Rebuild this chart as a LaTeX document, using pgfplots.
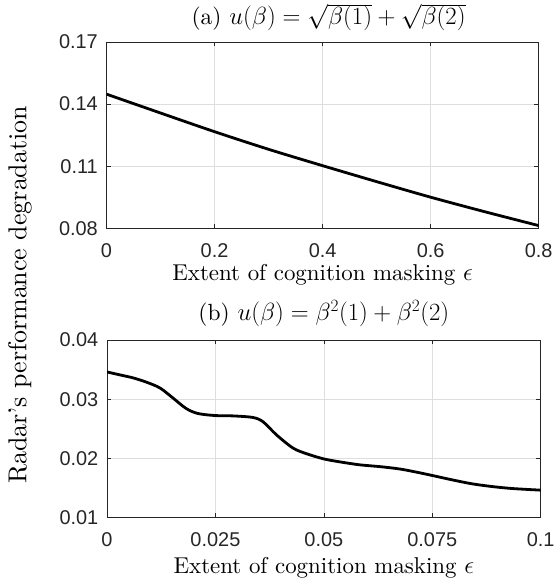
\documentclass[border=0pt]{standalone}
\usepackage{pgfplots}
\pgfplotsset{compat=1.18}
\usepackage{fontspec}
\setmainfont{lmroman10-regular.otf}
\newfontfamily\ticksans{Liberation Sans}
\definecolor{axgray}{RGB}{38,38,38}
\definecolor{gridgray}{RGB}{222,222,222}

\pgfplotsset{
  matlab/.style={
    scale only axis,
    anchor=south west,
    axis line style={axgray, line width=0.6bp},
    every tick/.style={axgray, line width=0.6bp},
    tick align=inside,
    major tick length=4.3bp,
    grid=major,
    major grid style={gridgray, line width=0.6bp},
    /pgf/number format/assume math mode=true,
    tick label style={font=\fontsize{20}{22}\selectfont\ticksans, text=axgray, inner sep=0pt},
    xticklabel style={anchor=north, yshift=-15bp},
    yticklabel style={anchor=east, xshift=-8.5bp},
    title style={font=\fontsize{23.5}{26}\selectfont, inner sep=0pt,
      at={(axis description cs:0.5,1)}, anchor=base, yshift=13.8bp},
    xlabel style={font=\fontsize{23}{26}\selectfont, inner sep=0pt,
      at={(axis description cs:0.5,0)}, anchor=north},
    scaled ticks=false,
  }
}
\newcommand\rt[1]{\sqrt{\vphantom{\beta}\smash{#1}}}

\begin{document}
\begin{tikzpicture}
\useasboundingbox (-107bp,-60.5bp) rectangle (449bp,517.5bp);

% (a)
\begin{axis}[matlab,
  at={(-0.5bp,289bp)},
  width=432.2bp, height=186.6bp,
  xmin=0, xmax=0.8, ymin=0.08, ymax=0.17,
  xtick={0,0.2,0.4,0.6,0.8}, xticklabels={0,0.2,0.4,0.6,0.8},
  ytick={0.08,0.11,0.14,0.17}, yticklabels={0.08,0.11,0.14,0.17},
  title={(a) $u(\beta)=\rt{\beta(1)}+\rt{\beta(2)}$},
  title style={font=\fontsize{23.5}{26}\selectfont, xshift=6bp, yshift=-2bp},
  xlabel={Extent of cognition masking $\epsilon$},
  xlabel style={yshift=-35.7bp},
]
\addplot[black, line width=2.8bp, smooth] coordinates {
(0,0.1448)(0.1,0.1357)(0.2,0.1267)(0.3,0.1182)(0.4,0.1103)
(0.5,0.1026)(0.6,0.0951)(0.7,0.0881)(0.8,0.0814)};
\end{axis}

% (b)
\begin{axis}[matlab,
  at={(0bp,0bp)},
  width=433.7bp, height=177.5bp,
  xmin=0, xmax=0.1, ymin=0.01, ymax=0.04,
  xtick={0,0.025,0.05,0.075,0.1}, xticklabels={0,0.025,0.05,0.075,0.1},
  ytick={0.01,0.02,0.03,0.04}, yticklabels={0.01,0.02,0.03,0.04},
  title={(b) $u(\beta)=\beta^2(1)+\beta^2(2)$},
  xlabel={Extent of cognition masking $\epsilon$},
  xlabel style={yshift=-40bp},
]
\addplot[black, line width=2.8bp, smooth, tension=0.5] coordinates {
(0,0.0346)(0.003,0.0341)(0.006,0.0336)(0.009,0.0329)(0.0122,0.0319)
(0.0152,0.0302)(0.0183,0.0284)(0.021,0.02757)(0.025,0.02723)
(0.0291,0.02717)(0.0337,0.0269)(0.036,0.02617)(0.0391,0.02395)
(0.0429,0.02173)(0.046,0.02078)(0.05,0.0199)(0.0537,0.0194)
(0.0583,0.0189)(0.0629,0.0186)(0.0675,0.0182)(0.0714,0.01766)
(0.075,0.0171)(0.0796,0.01636)(0.0842,0.01569)(0.0888,0.01523)
(0.0934,0.0149)(0.1,0.01462)};
\end{axis}

\node[rotate=90, font=\fontsize{26}{28}\selectfont, inner sep=0pt]
  at (-87bp,222.5bp) {Radar's performance degradation};
\end{tikzpicture}
\end{document}
